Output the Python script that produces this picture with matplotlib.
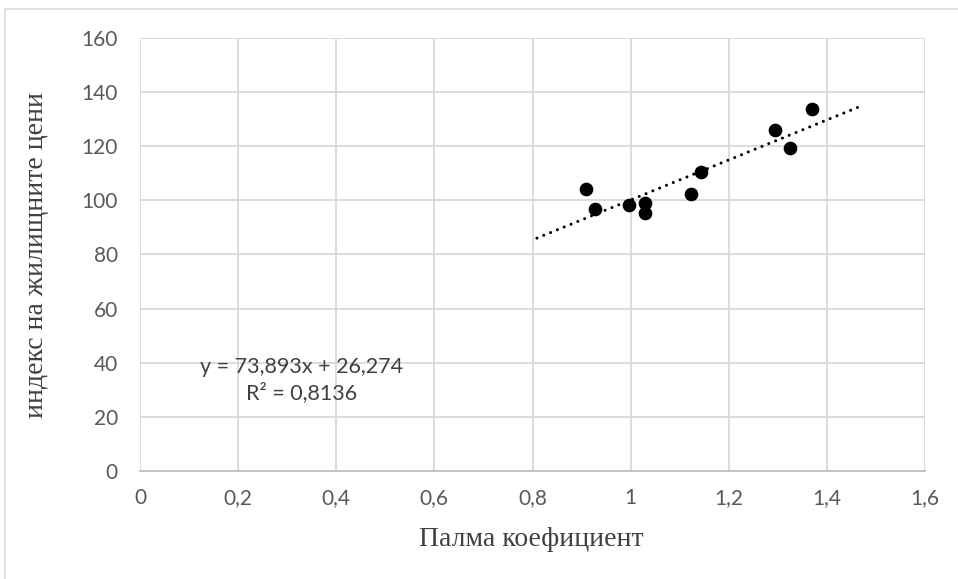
import matplotlib.pyplot as plt
import matplotlib.ticker as mticker
from matplotlib.patches import Rectangle
import numpy as np

# Палма коефициент / индекс на жилищните цени
palma = [0.909, 0.927, 0.997, 1.029, 1.029, 1.123, 1.144, 1.295, 1.325, 1.369]
price_index = [104.3, 96.7, 98.2, 98.9, 95.5, 102.4, 110.5, 126.0, 119.5, 133.7]

# линеен тренд (от Excel)
slope = 73.893
intercept = 26.274
r2 = 0.8136
forecast = 0.1

x_ticks = [0, 0.2, 0.4, 0.6, 0.8, 1, 1.2, 1.4, 1.6]
y_ticks = [0, 20, 40, 60, 80, 100, 120, 140, 160]


def comma(v):
    return ('%g' % v).replace('.', ',')


fig = plt.figure(figsize=(9.58, 5.79), dpi=100)
ax = fig.add_axes([140 / 958, 1 - 471 / 579, 785 / 958, 433 / 579])

# рамка на диаграмата
fig.patches.append(Rectangle((5 / 958, -0.1), 1.2, 1 - 9 / 579 + 0.1,
                             transform=fig.transFigure, fill=False,
                             edgecolor='#d9d9d9', lw=1.2))

ax.set_xlim(0, 1.6)
ax.set_ylim(0, 160)
ax.set_xticks(x_ticks)
ax.set_yticks(y_ticks)
ax.grid(True, color='#d9d9d9', lw=1.3)
ax.set_axisbelow(True)
for s in ['top', 'right', 'left']:
    ax.spines[s].set_visible(False)
ax.spines['bottom'].set_color('#bfbfbf')
ax.spines['bottom'].set_linewidth(1.3)

fmt = mticker.FuncFormatter(lambda v, p: comma(v))
ax.xaxis.set_major_formatter(fmt)
ax.yaxis.set_major_formatter(fmt)
ax.tick_params(length=0, labelsize=15, labelcolor='#595959')
ax.tick_params(axis='y', pad=16)
ax.tick_params(axis='x', pad=12)
for lab in ax.get_xticklabels() + ax.get_yticklabels():
    lab.set_fontfamily('Lato')

ax.scatter(palma, price_index, s=78, color='black', zorder=3)

xs = np.array([min(palma) - forecast, max(palma) + forecast])
ax.plot(xs, slope * xs + intercept, color='black', lw=2.2,
        linestyle=(0, (0.01, 2.4)), dash_capstyle='round', zorder=2)

eq = 'y = %sx + %s\nR² = %s' % (comma(slope), comma(intercept), comma(r2))
ax.text(0.206, 0.21, eq, transform=ax.transAxes, ha='center', va='center',
        fontsize=15.5, color='#404040', family='Lato', linespacing=1.3)

ax.set_xlabel('Палма коефициент', family='Liberation Serif', fontsize=20, color='#404040')
ax.set_ylabel('индекс на жилищните цени', family='Liberation Serif', fontsize=20, color='#404040')
ax.xaxis.set_label_coords(0.498, -0.13)
ax.yaxis.set_label_coords(-0.116, 0.5)

fig.savefig('out.png', dpi=100)
